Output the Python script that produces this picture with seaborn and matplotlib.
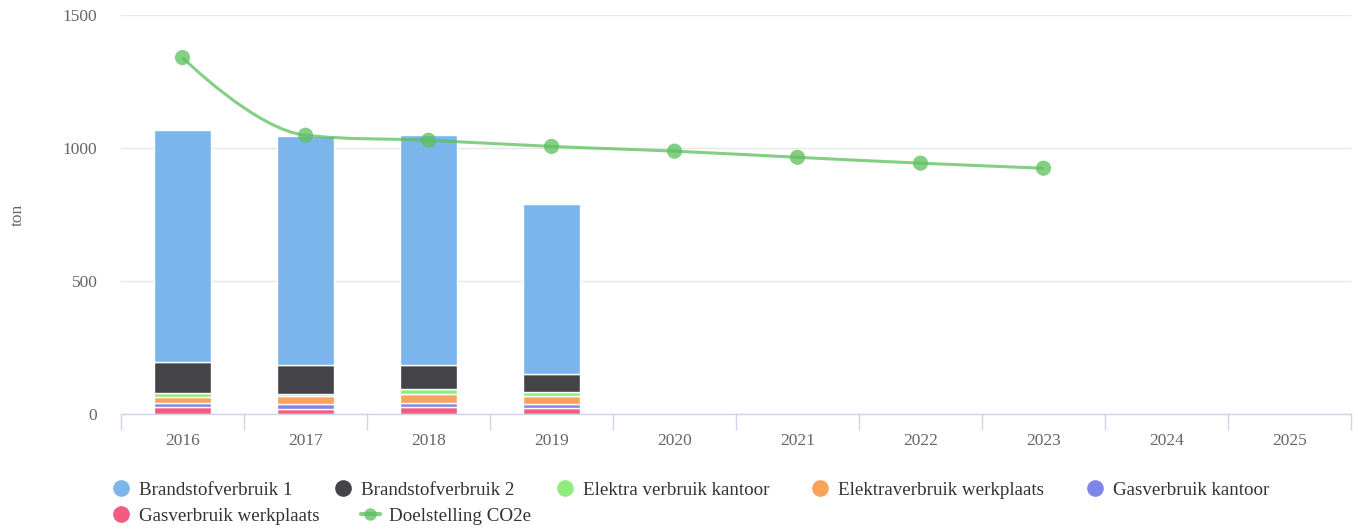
import numpy as np
import pandas as pd
import matplotlib
matplotlib.use("Agg")
import matplotlib.pyplot as plt
import seaborn as sns
from matplotlib.path import Path
from matplotlib.patches import PathPatch
from matplotlib.lines import Line2D

# --- data ---
bar_years = [2016, 2017, 2018, 2019]
all_years = [2016, 2017, 2018, 2019, 2020, 2021, 2022, 2023, 2024, 2025]
brandstof_1 = [872, 860, 864, 642]
brandstof_2 = [118, 108, 90, 66]
elektra_kantoor = [16, 10, 18, 17]
elektra_werkplaats = [22, 30, 35, 30]
gas_kantoor = [15, 16, 16, 15]
gas_werkplaats = [26, 20, 26, 21]

target_years = [2016, 2017, 2018, 2019, 2020, 2021, 2022, 2023]
target_co2 = [1340, 1048, 1029, 1006, 988, 965, 943, 924]

series_names = ["Brandstofverbruik 1", "Brandstofverbruik 2", "Elektra verbruik kantoor",
                "Elektraverbruik werkplaats", "Gasverbruik kantoor", "Gasverbruik werkplaats"]
series_colors = ["#7cb5ec", "#434348", "#90ed7d", "#f7a35c", "#8085e9", "#f15c80"]
line_name = "Doelstelling CO2e"
line_color = "#5cbf5c"

rows = []
for name, vals in zip(series_names, [brandstof_1, brandstof_2, elektra_kantoor,
                                     elektra_werkplaats, gas_kantoor, gas_werkplaats]):
    for yr, v in zip(bar_years, vals):
        rows.append({"year": yr, "serie": name, "ton": v})
df = pd.DataFrame(rows)

sns.set_style("white")
plt.rcParams["font.family"] = ["Liberation Serif", "DejaVu Serif"]

fig = plt.figure(figsize=(13.58, 5.31), dpi=100)
ax = fig.add_axes([121 / 1358, 1 - 414 / 531, 1230 / 1358, 399 / 531])

sns.histplot(data=df, x="year", weights="ton", hue="serie", hue_order=series_names,
             palette=series_colors, multiple="stack", discrete=True, shrink=0.47,
             alpha=1, edgecolor="white", linewidth=1, legend=False, ax=ax, zorder=2)


# Highcharts-like spline through the target points
def spline_path(xs, ys, smoothing=1.5):
    n = len(xs)
    left = [None] * n
    right = [None] * n
    d = smoothing + 1
    for i in range(1, n - 1):
        lx = (smoothing * xs[i] + xs[i - 1]) / d
        ly = (smoothing * ys[i] + ys[i - 1]) / d
        rx = (smoothing * xs[i] + xs[i + 1]) / d
        ry = (smoothing * ys[i] + ys[i + 1]) / d
        corr = ((ry - ly) * (rx - xs[i])) / (rx - lx) + ys[i] - ry
        ly += corr
        ry += corr
        if ly > max(ys[i - 1], ys[i]):
            ly = max(ys[i - 1], ys[i]); ry = 2 * ys[i] - ly
        elif ly < min(ys[i - 1], ys[i]):
            ly = min(ys[i - 1], ys[i]); ry = 2 * ys[i] - ly
        if ry > max(ys[i + 1], ys[i]):
            ry = max(ys[i + 1], ys[i]); ly = 2 * ys[i] - ry
        elif ry < min(ys[i + 1], ys[i]):
            ry = min(ys[i + 1], ys[i]); ly = 2 * ys[i] - ry
        left[i] = (lx, ly)
        right[i] = (rx, ry)
    verts = [(xs[0], ys[0])]
    codes = [Path.MOVETO]
    for i in range(1, n):
        c1 = right[i - 1] if right[i - 1] else (xs[i - 1], ys[i - 1])
        c2 = left[i] if left[i] else (xs[i], ys[i])
        verts += [c1, c2, (xs[i], ys[i])]
        codes += [Path.CURVE4] * 3
    return Path(verts, codes)


ax.add_patch(PathPatch(spline_path(target_years, target_co2), facecolor="none",
                       edgecolor=line_color, lw=2.2, alpha=0.75, zorder=3))
sns.scatterplot(x=target_years, y=target_co2, color=line_color, s=120, alpha=0.75,
                edgecolor="none", legend=False, ax=ax, zorder=4)

# axes styling
ax.set_xlim(all_years[0] - 0.5, all_years[-1] + 0.5)
ax.set_ylim(0, 1500)
ax.set_yticks([0, 500, 1000, 1500])
ax.set_yticklabels(["0", "500", "1000", "1500"])
ax.grid(axis="y", color="#e6e6e6", lw=1, zorder=0)
ax.set_axisbelow(True)
for s in ["top", "right", "left"]:
    ax.spines[s].set_visible(False)
ax.spines["bottom"].set_color("#ccd6eb")
ax.spines["bottom"].set_linewidth(1)
ax.set_xticks(all_years)
ax.set_xticklabels([str(y) for y in all_years])
ax.set_xticks([y - 0.5 for y in all_years] + [all_years[-1] + 0.5], minor=True)
ax.tick_params(axis="x", which="major", bottom=False, length=0, pad=14, labelsize=12.5,
               labelcolor="#666666")
ax.tick_params(axis="x", which="minor", bottom=True, length=11.5, color="#ccd6eb", width=1,
               direction="out")
ax.tick_params(axis="y", length=0, pad=17, labelsize=12.5, labelcolor="#666666")
ax.set_xlabel("")
ax.set_ylabel("ton", fontsize=12.5, color="#666666")
ax.yaxis.set_label_coords(-95 / 1230, 0.5)

# legend
def dot(c):
    return Line2D([], [], ls="none", marker="o", ms=12, color=c, markeredgecolor="none")

legend_kw = dict(loc="center left", frameon=False, fontsize=13.7, handlelength=1.0,
                 handletextpad=0.45, columnspacing=2.15, labelcolor="#333333",
                 borderaxespad=0, borderpad=0.2)
h1 = [dot(c) for c in series_colors[:5]]
fig.legend(h1, series_names[:5], bbox_to_anchor=(108 / 1358, 1 - 490 / 531), ncol=5, **legend_kw)
h2 = [dot(series_colors[5]),
      Line2D([], [], color=line_color, lw=3, alpha=0.75, marker="o", ms=9, markeredgecolor="none")]
fig.legend(h2, [series_names[5], line_name], bbox_to_anchor=(108 / 1358, 1 - 516 / 531), ncol=2, **legend_kw)

fig.savefig("out.png", dpi=100)
